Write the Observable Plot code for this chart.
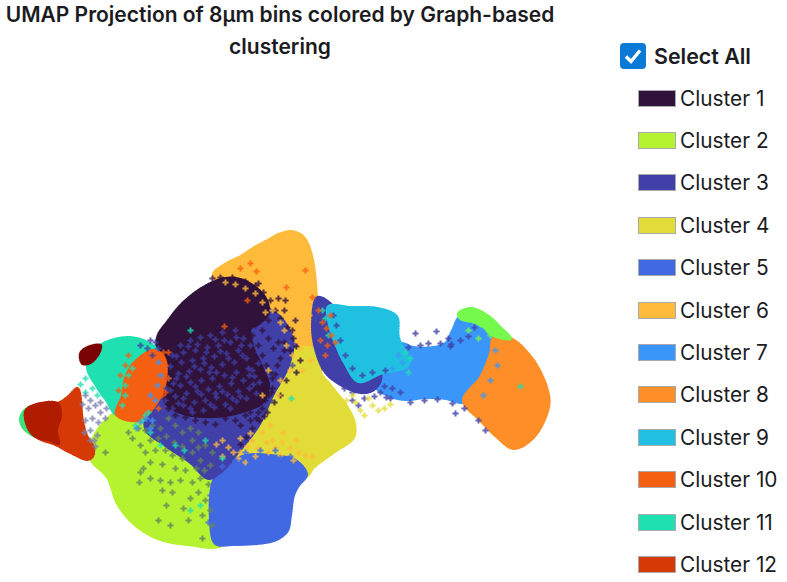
<!DOCTYPE html>
<html><head><meta charset="utf-8">
<script src="https://cdn.jsdelivr.net/npm/d3@7"></script>
<script src="https://cdn.jsdelivr.net/npm/@observablehq/plot@0.6"></script>
<style>
html,body{margin:0;background:#fff;width:787px;height:582px;overflow:hidden;font-family:Inter,"Noto Sans",sans-serif;color:#1b1b22}
#title{position:absolute;left:0;top:-1px;width:560px;text-align:center;font-weight:600;font-size:21px;line-height:32px}
#chart{position:absolute;left:0;top:200px}
#chart svg{filter:blur(.7px)}
#all{position:absolute;left:620px;top:43px;display:flex;align-items:center}
#all b{font-weight:600;font-size:21.4px;margin-left:8px}
.row{position:absolute;left:638px;height:22px;display:flex;align-items:center;font-size:20.8px;white-space:nowrap}
.sw{width:36px;height:15px;border:1px solid #aaa;margin-right:4px;box-sizing:content-box}
</style></head><body>
<div id="title">UMAP Projection of 8µm bins colored by Graph-based<br>clustering</div>
<div id="chart"></div>
<div id="all"><svg width="26" height="26" viewBox="0 0 26 26"><rect width="26" height="26" rx="4" fill="#0b79d6"/><path d="M6 13.5l5 5L20 7.5" fill="none" stroke="#fff" stroke-width="3.4"/></svg><b>Select All</b></div>
<script>
const clusters=["Cluster 1","Cluster 2","Cluster 3","Cluster 4","Cluster 5","Cluster 6","Cluster 7","Cluster 8","Cluster 9","Cluster 10","Cluster 11","Cluster 12","Cluster 13","Cluster 14","Cluster 15","Cluster 16"];
const colors=["#30123B","#B5F22F","#4040A8","#E2DC38","#4169E1","#FEBA3A","#3B96F9","#FE8E27","#20C0E0","#F55F12","#1FE0B0","#D53A06","#7A0403","#75F94D","#3FE37C","#B01C00"];
const legendCount=12;

// outlines of each cluster's cloud; later ones lie over earlier ones
const outline6=[[213,274],[226,263],[240,256],[254,247],[267,240],[278,234],[290,231],[300,234],[306,241],[311,255],[314,272],[316,295],[318,330],[320,370],[290,380],[240,340],[225,290]];
const outline4=[[290,350],[316,350],[320,372],[330,385],[347,407],[354,423],[353,437],[333,452],[313,467],[306,476],[280,480],[235,470],[240,420],[270,380]];
const outline2=[[90,458],[92,440],[100,426],[116,412],[135,412],[170,410],[225,440],[222,500],[222,544],[187,544],[157,538],[133,523],[117,503],[107,477]];
const outline5=[[213,480],[225,465],[245,455],[270,455],[295,460],[306,474],[298,485],[293,495],[290,515],[287,530],[278,538],[265,542],[233,544],[215,543],[210,520]];
const outline3=[[150,400],[157,345],[200,320],[255,305],[278,315],[292,340],[288,365],[272,395],[258,425],[235,455],[222,470],[208,478],[190,462],[165,445],[145,428]];
const outline1=[[157,337],[168,320],[180,305],[195,292],[210,283],[225,278],[240,279],[255,287],[265,298],[268,312],[260,322],[250,328],[252,345],[262,368],[268,385],[262,402],[245,410],[225,415],[200,416],[180,412],[165,402],[160,370]];
const outline11=[[87,366],[100,345],[127,337],[147,342],[158,352],[150,375],[125,400],[116,414],[106,400],[97,387]];
const outline10=[[133,363],[153,350],[164,358],[164,385],[152,408],[138,420],[116,414],[122,395],[125,378]];
const outline13=[[80,353],[87,347],[100,345],[98,353],[90,362],[82,363]];
const outline12=[[33,406],[57,403],[68,396],[77,388],[82,420],[86,435],[93,447],[92,456],[87,459],[70,452],[55,444],[35,435]];
const outline16=[[25,411],[33,405],[57,403],[60,415],[56,430],[58,443],[50,440],[35,436],[28,428]];
const outline15=[[20,418],[24,410],[32,406],[30,418],[36,436],[28,432],[22,426]];
const outline7=[[378,355],[400,343],[413,347],[433,347],[445,343],[452,330],[460,316],[480,322],[500,340],[500,370],[480,400],[460,402],[445,398],[425,397],[405,399],[388,395],[374,385]];
const outline3b=[[317,297],[332,306],[336,335],[348,360],[362,368],[378,368],[380,380],[372,390],[360,392],[340,384],[325,372],[316,352],[312,327]];
const outline9=[[328,306],[350,307],[377,308],[396,316],[398,337],[408,364],[380,373],[358,381],[344,362],[332,335],[328,320]];
const outline8=[[493,338],[510,338],[533,360],[547,390],[548,407],[533,437],[513,448],[497,437],[480,420],[463,400],[480,377],[490,353]];
const outline14=[[458,313],[470,308],[487,315],[500,327],[510,338],[493,335],[477,323],[460,318]];

const regions=[["a","Cluster 6",outline6],["b","Cluster 4",outline4],["c","Cluster 2",outline2],["d","Cluster 5",outline5],["e","Cluster 3",outline3],["f","Cluster 1",outline1],["g","Cluster 11",outline11],["h","Cluster 10",outline10],["i","Cluster 13",outline13],["j","Cluster 15",outline15],["k","Cluster 12",outline12],["l","Cluster 16",outline16],["m","Cluster 7",outline7],["n","Cluster 3",outline3b],["o","Cluster 9",outline9],["p","Cluster 8",outline8],["q","Cluster 14",outline14]];

// scattered bins that stand out from the clouds
const spots3=[[180,345],[190,340],[200,337],[210,335],[222,332],[235,330],[172,355],[183,352],[195,350],[207,347],[218,345],[230,342],[243,338],[170,366],[181,362],[192,360],[203,358],[214,356],[226,353],[238,350],[250,345],[168,378],[178,373],[189,371],[200,369],[211,367],[222,364],[234,362],[246,358],[258,352],[170,390],[180,385],[190,382],[201,380],[212,378],[224,375],[236,372],[248,368],[258,363],[165,400],[175,396],[186,393],[197,391],[208,389],[219,386],[231,383],[243,380],[254,376],[172,408],[183,405],[194,402],[205,400],[216,397],[227,394],[238,391],[249,388],[259,382],[192,412],[203,410],[214,407],[225,404],[236,401],[246,398],[256,393],[176,356],[197,344],[215,339],[241,345],[228,358],[209,372],[195,386],[215,393],[232,398],[249,375],[186,376],[173,383],[204,363],[220,351],[236,337],[188,346],[206,352],[224,340],[242,355],[176,378],[194,366],[216,372],[232,377],[252,370],[183,398],[201,394],[222,391],[240,396],[253,384],[166,388],[178,403],[190,408],[210,404],[230,408],[322,350],[338,378],[352,392],[364,398],[374,396],[380,392],[386,397],[390,398],[384,386],[392,388],[400,392],[410,402],[424,400],[437,399],[452,403],[455,413],[478,420],[485,430],[464,408],[352,400],[358,405],[344,388],[408,347],[420,345],[428,343],[440,343],[451,344],[460,340],[468,336],[448,338],[436,331],[415,333],[474,327],[450,346],[288,335],[294,345],[286,360],[292,365],[282,372],[276,385],[270,400],[262,412],[333,315],[336,325],[340,340],[345,355],[352,368],[362,375],[372,372],[385,370],[140,345],[147,348],[152,355],[155,342],[150,340],[158,348]];
const spotsDark=[[212,278],[220,277],[232,277],[245,281],[255,285],[263,292],[270,300],[275,310],[258,283],[268,320],[280,318],[287,327],[284,342],[277,365],[272,378],[262,386],[271,392],[265,400],[262,408],[258,412],[252,428],[246,437],[240,444],[250,420],[280,358],[290,350],[293,338],[275,374],[267,412],[259,420],[284,310],[295,320],[296,346],[300,360],[284,350],[268,395],[272,388],[256,418],[264,416],[278,298],[285,300],[292,330],[296,372],[286,380],[280,395],[274,402],[252,335],[258,345],[262,355],[266,365],[270,372],[255,325],[262,330],[268,338],[273,348],[278,342],[245,415],[235,420],[225,418],[215,424],[205,422],[195,420],[185,417],[175,415],[168,408],[240,425],[250,412]];
const spotsTan=[[222,440],[228,447],[233,452],[240,438],[247,446],[252,440],[258,448],[266,442],[275,447],[282,442],[290,448],[298,452],[305,455],[312,456],[238,458],[245,462],[255,456],[268,452],[280,455],[293,460],[222,456],[216,444],[240,452],[272,440],[262,432],[250,433],[283,432],[296,440],[270,425],[286,345],[292,355],[284,330],[280,322],[288,314],[296,305],[306,298],[296,332],[305,325],[300,348],[290,370],[280,380],[262,395],[268,370],[278,395],[297,283],[302,300],[301,312],[272,310],[265,312],[309,315],[302,370],[310,360],[225,282],[235,284],[245,288],[255,293],[262,302]];
const spotsOlive=[[145,430],[152,425],[160,428],[168,418],[175,425],[182,432],[190,428],[150,440],[158,438],[166,436],[174,442],[182,446],[192,440],[198,447],[145,452],[155,450],[165,450],[172,455],[182,458],[192,452],[200,460],[204,470],[196,468],[185,470],[175,468],[162,464],[150,462],[140,472],[150,478],[160,480],[170,482],[180,480],[192,482],[200,478],[208,484],[198,492],[190,498],[205,500],[210,510],[202,515],[212,525],[162,490],[172,492],[143,468],[139,482],[166,505],[183,508],[188,520],[170,525],[158,520],[202,538],[105,452],[140,445],[132,438],[138,428],[128,432],[205,445],[212,452],[210,465],[198,432]];
const spotsTeal=[[85,378],[80,384],[92,388],[97,395],[85,392],[190,330],[222,458],[291,398],[520,386],[175,445],[184,450],[160,445],[150,432],[145,415],[142,420],[135,425],[148,412],[205,440],[200,505],[190,510],[125,385],[128,375],[132,368],[125,395],[122,405],[322,310],[325,318],[328,335],[405,352],[410,358],[408,372]];
const spotsGap=[[85,395],[90,400],[95,405],[100,412],[88,408],[92,418],[98,422],[85,420],[84,432],[90,430],[97,435],[94,440],[100,402],[105,418],[82,404],[106,408],[90,440],[95,446]];
const spotsYellow=[[355,402],[360,410],[364,415],[372,405],[378,410],[384,408],[390,404],[368,398],[352,395],[346,400]];
const spotsOrange=[[250,263],[256,271],[240,268],[247,300],[224,326],[318,310],[322,322],[326,328],[331,335],[320,340],[327,345],[335,342],[325,355],[330,315],[286,287],[305,270],[312,297],[165,365],[168,378],[162,395],[158,408],[168,352],[165,392],[163,352],[120,375],[125,365],[118,390],[128,355]];
const spots5=[[222,466],[235,460],[250,462],[265,457],[280,458],[290,456],[230,470],[245,452],[260,450],[275,450],[218,478],[214,490],[218,500],[212,515],[216,528],[214,538],[208,522],[210,495]];
const spots7=[[140,422],[146,418],[152,420],[150,428],[136,428],[155,400],[150,395],[157,385],[160,375],[158,362],[398,355],[402,362],[392,368],[490,380],[483,395],[495,350],[497,365],[470,325],[482,330]];
const spots8=[[478,392],[485,375],[492,360],[470,398],[474,385]];
const spots14=[[490,335],[478,338],[468,330]];
const spotsGroups=[["Cluster 3",spots3],["Cluster 1",spotsDark],["Cluster 6",spotsTan],["#64855a",spotsOlive],["Cluster 11",spotsTeal],["#7d7fae",spotsGap],["Cluster 4",spotsYellow],["Cluster 10",spotsOrange],["Cluster 5",spots5],["Cluster 7",spots7],["Cluster 8",spots8],["Cluster 14",spots14]];

const outlineRows=regions.flatMap(([id,c,p])=>p.map(([x,y])=>({id,c,x,y})));
const spotRows=spotsGroups.flatMap(([c,p])=>p.map(([x,y])=>({c,x,y})));
const fillOf=c=>clusters.includes(c)?colors[clusters.indexOf(c)]:c;

const plot=Plot.plot({width:600,height:370,margin:0,x:{domain:[0,600],axis:null},y:{domain:[570,200],axis:null},
 marks:[
  Plot.line(outlineRows,{x:"x",y:"y",z:"id",fill:d=>fillOf(d.c),stroke:d=>fillOf(d.c),strokeWidth:3,strokeDasharray:"1.5,1.5",curve:"catmull-rom-closed"}),
  Plot.dot(spotRows,{x:"x",y:"y",symbol:"cross",r:2.6,fill:d=>fillOf(d.c),fillOpacity:.8,stroke:"none"})
 ]});
document.getElementById("chart").append(plot);

clusters.slice(0,legendCount).forEach((c,i)=>{
 const r=document.createElement("div");r.className="row";r.style.top=(87+i*42.4)+"px";
 r.innerHTML=`<span class="sw" style="background:${colors[i]}"></span>${c}`;
 document.body.append(r);
});
</script></body></html>
